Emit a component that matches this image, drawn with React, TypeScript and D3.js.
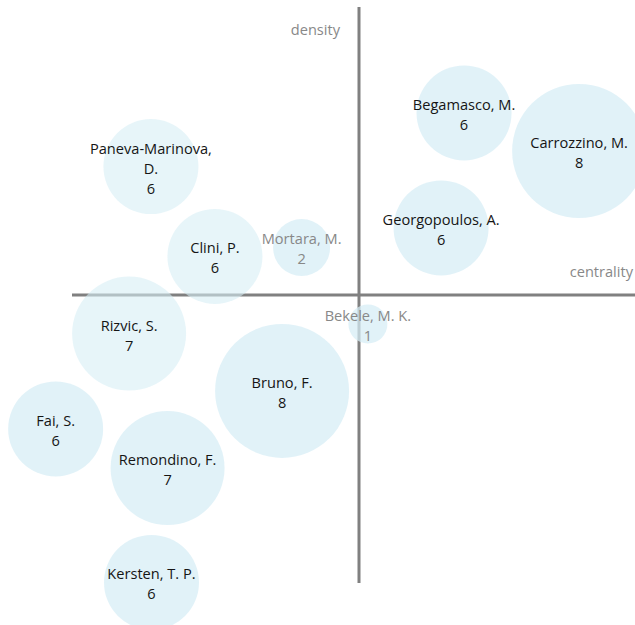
import React from "react";
import * as d3 from "d3";

const authors = [
  "Begamasco, M.", "Carrozzino, M.", "Georgopoulos, A.", "Paneva-Marinova, D.",
  "Clini, P.", "Mortara, M.", "Bekele, M. K.", "Rizvic, S.", "Bruno, F.",
  "Fai, S.", "Remondino, F.", "Kersten, T. P.",
];
const counts = [6, 8, 6, 6, 6, 2, 1, 7, 8, 6, 7, 6];
const centrality = [0.366, 0.767, 0.286, -0.725, -0.502, -0.2, 0.031, -0.801, -0.268, -1.057, -0.667, -0.723];
const density = [0.632, 0.5, 0.233, 0.446, 0.134, 0.165, -0.101, -0.134, -0.333, -0.465, -0.601, -0.998];
const group = ["a", "a", "a", "b", "b", "a", "a", "b", "a", "a", "a", "a"];
const axisLabels = { x: "centrality", y: "density" };

const W = 635;
const H = 625;
const FONT = "'Open Sans', sans-serif";
const FS = 14.6;

function measure(text: string): number {
  const c = document.createElement("canvas").getContext("2d")!;
  c.font = `${FS}px ${FONT}`;
  return c.measureText(text).width;
}

function wrap(text: string, maxW: number): string[] {
  const words = text.split(" ");
  const lines: string[] = [];
  let cur = "";
  for (const w of words) {
    const t = cur ? cur + " " + w : w;
    if (cur && measure(t) > maxW) {
      lines.push(cur);
      cur = w;
    } else cur = t;
  }
  if (cur) lines.push(cur);
  return lines;
}

export default function App() {
  const x = d3.scaleLinear().domain([-1, 1]).range([72, 646]);
  const y = d3.scaleLinear().domain([-1, 1]).range([583, 7]);
  const r = d3.scaleLinear().domain([1, 2, 6, 7, 8]).range([19.5, 28.5, 47.5, 57, 67]);
  const opacity = d3.scaleOrdinal<string, number>().domain(["a", "b"]).range([0.72, 0.58]);

  const data = authors.map((a, i) => ({
    name: a,
    count: counts[i],
    cx: x(centrality[i]),
    cy: y(density[i]),
    g: group[i],
  }));

  const lh = 20;

  return (
    <svg
      width={W}
      height={H}
      style={{ position: "absolute", left: 0, top: 0, fontFamily: FONT }}
    >
      <line x1={x(-1)} x2={W} y1={y(0)} y2={y(0)} stroke="#808080" strokeWidth={3} />
      <line x1={x(0)} x2={x(0)} y1={y(1)} y2={y(-1)} stroke="#808080" strokeWidth={3} />
      {data.map((d) => (
        <circle
          key={d.name}
          cx={d.cx}
          cy={d.cy}
          r={r(d.count)}
          fill="rgb(213,237,245)"
          fillOpacity={opacity(d.g)}
        />
      ))}
      {data.map((d) => {
        const lines = [...wrap(d.name, 130), String(d.count)];
        const n = lines.length;
        const color = d.count <= 2 ? "#888888" : "#151515";
        return (
          <text
            key={d.name}
            textAnchor="middle"
            fontSize={FS}
            fill={color}
            dominantBaseline="central"
          >
            {lines.map((l, k) => (
              <tspan key={k} x={d.cx} y={d.cy + 1 + (k - (n - 1) / 2) * lh}>
                {l}
              </tspan>
            ))}
          </text>
        );
      })}
      <text x={x(0) - 19} y={35} textAnchor="end" fontSize={FS} fill="#888888">
        {axisLabels.y}
      </text>
      <text x={633} y={277} textAnchor="end" fontSize={FS} fill="#888888">
        {axisLabels.x}
      </text>
    </svg>
  );
}
